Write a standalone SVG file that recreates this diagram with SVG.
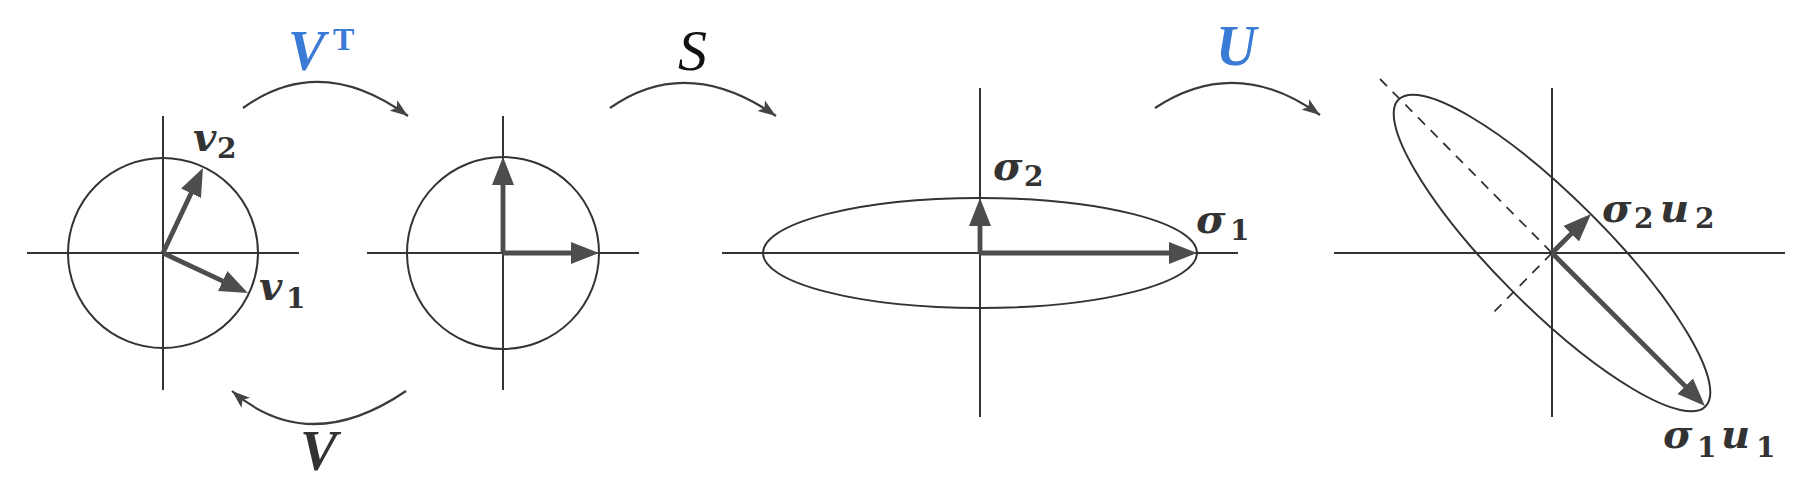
<svg xmlns="http://www.w3.org/2000/svg" width="1820" height="488" viewBox="0 0 1820 488">
<style>
.ax{stroke:#333;stroke-width:2;fill:none}
.sh{stroke:#333;stroke-width:2;fill:none}
.vec{stroke:#4d4d4d;stroke-width:4.8;fill:none;marker-end:url(#vh)}
.dash{stroke:#333;stroke-width:1.8;fill:none;stroke-dasharray:10 8}
.con{stroke:#3a3a3a;stroke-width:2.2;fill:none;marker-end:url(#ch)}
.m{font-family:"DejaVu Serif","Liberation Serif",serif;font-style:italic;font-weight:bold;font-size:40px;fill:#333}
.sub{font-style:normal;font-size:28px}
.cap{font-family:"Liberation Serif","DejaVu Serif",serif;font-style:italic;font-weight:bold;font-size:56px}
.blue{fill:#3a7bd5}
</style>
<defs>
<marker id="vh" markerUnits="userSpaceOnUse" markerWidth="30" markerHeight="24" viewBox="0 0 30 22" refX="18" refY="11" orient="auto">
<path d="M0,0 L28,11 L0,22 Z" fill="#4d4d4d"/>
</marker>
<marker id="ch" markerUnits="userSpaceOnUse" markerWidth="20" markerHeight="14" viewBox="0 0 20 14" refX="18" refY="7" orient="auto">
<path d="M0,0.5 L18,7 L0,13.5 L4,7 Z" fill="#444"/>
</marker>
</defs>
<rect width="1820" height="488" fill="#fff"/>

<g id="plot1">
<line class="ax" x1="27" y1="253" x2="299" y2="253"/>
<line class="ax" x1="163" y1="116" x2="163" y2="390"/>
<circle class="sh" cx="163" cy="253" r="95"/>
<line class="vec" x1="163" y1="253" x2="198.7" y2="177"/>
<line class="vec" x1="163" y1="253" x2="238.9" y2="288.7"/>
<text class="m" x="193" y="151">v<tspan class="sub" x="217" y="158">2</tspan></text>
<text class="m" x="259" y="300">v<tspan class="sub" x="286" y="308">1</tspan></text>
</g>

<g id="plot2">
<line class="ax" x1="367" y1="253" x2="639" y2="253"/>
<line class="ax" x1="503" y1="116" x2="503" y2="390"/>
<circle class="sh" cx="503" cy="253" r="96"/>
<line class="vec" x1="503" y1="253" x2="503" y2="167"/>
<line class="vec" x1="503" y1="253" x2="589" y2="253"/>
</g>

<g id="plot3">
<line class="ax" x1="722" y1="253" x2="1238" y2="253"/>
<line class="ax" x1="980" y1="88" x2="980" y2="417"/>
<ellipse class="sh" cx="980" cy="253" rx="217" ry="55"/>
<line class="vec" x1="980" y1="253" x2="980" y2="208"/>
<line class="vec" x1="980" y1="253" x2="1187" y2="253"/>
<text class="m" x="993" y="180">σ<tspan class="sub" x="1024" y="186">2</tspan></text>
<text class="m" x="1196" y="233">σ<tspan class="sub" x="1230" y="240">1</tspan></text>
</g>

<g id="plot4">
<line class="ax" x1="1334" y1="253" x2="1785" y2="253"/>
<line class="ax" x1="1552" y1="88" x2="1552" y2="417"/>
<line class="dash" x1="1380" y1="79" x2="1552" y2="253"/>
<line class="dash" x1="1552" y1="253" x2="1490" y2="316"/>
<ellipse class="sh" cx="1552" cy="253" rx="217" ry="55" transform="rotate(45 1552 253)"/>
<line class="vec" x1="1552" y1="253" x2="1697.9" y2="398.9"/>
<line class="vec" x1="1552" y1="253" x2="1583.9" y2="221.1"/>
<text class="m" x="1602" y="222">σ<tspan class="sub" x="1634" y="228">2</tspan><tspan x="1660" y="222">u</tspan><tspan class="sub" x="1695" y="228">2</tspan></text>
<text class="m" x="1663" y="448">σ<tspan class="sub" x="1697" y="457">1</tspan><tspan x="1721" y="448">u</tspan><tspan class="sub" x="1756" y="457">1</tspan></text>
</g>

<g id="connectors">
<path class="con" d="M243,108 Q320.5,52 408,116"/>
<path class="con" d="M406,391 Q309,457 232,391"/>
<path class="con" d="M610,108 Q687,54 776,116"/>
<path class="con" d="M1155,108 Q1236.5,54.5 1320,115"/>
</g>

<g id="connector-labels">
<text class="cap blue" x="288" y="70">V<tspan font-style="normal" font-size="32" x="333" y="50">T</tspan></text>
<text class="cap" x="300" y="470" fill="#333">V</text>
<text x="678" y="70" font-family="Liberation Serif, DejaVu Serif, serif" font-style="italic" font-size="58" fill="#111">S</text>
<text class="cap blue" x="1216" y="65">U</text>
</g>
</svg>
